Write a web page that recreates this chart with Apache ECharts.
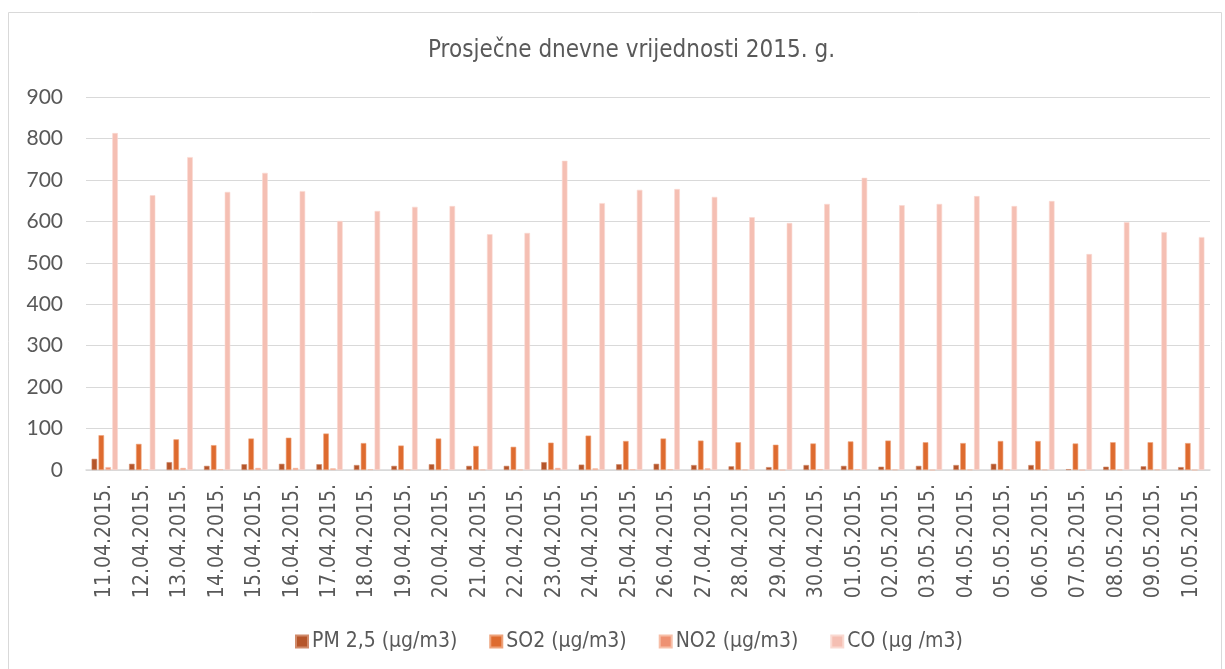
<!DOCTYPE html>
<html>
<head>
<meta charset="utf-8">
<script src="https://cdn.jsdelivr.net/npm/echarts@6/dist/echarts.min.js"></script>
<style>html,body{margin:0;padding:0;background:#fff}#c{width:1225px;height:669px}</style>
</head>
<body>
<div id="c"></div>
<script>
const categories = ['11.04.2015.','12.04.2015.','13.04.2015.','14.04.2015.','15.04.2015.','16.04.2015.','17.04.2015.','18.04.2015.','19.04.2015.','20.04.2015.','21.04.2015.','22.04.2015.','23.04.2015.','24.04.2015.','25.04.2015.','26.04.2015.','27.04.2015.','28.04.2015.','29.04.2015.','30.04.2015.','01.05.2015.','02.05.2015.','03.05.2015.','04.05.2015.','05.05.2015.','06.05.2015.','07.05.2015.','08.05.2015.','09.05.2015.','10.05.2015.'];
const pm25 = [27,15,19,10,14,15,14,12,10,14,10,10,19,13,14,15,12,9,7,12,10,8,10,12,15,12,2,8,9,7];
const so2 = [84,63,74,60,76,78,88,65,59,76,58,56,66,83,70,76,71,67,61,64,69,71,67,65,70,70,64,67,67,65];
const no2 = [7,2,5,2,5,5,4,2,1,2,1,1,5,4,2,2,4,1,0,2,2,1,0,1,1,1,0,1,1,0];
const co = [813,663,755,671,717,673,601,625,635,637,569,572,746,644,676,678,659,610,596,642,705,639,642,661,637,649,521,598,574,562];
const yTicks = {min:0, max:900, interval:100};
const seriesNames = ['PM 2,5 (µg/m3)','SO2 (µg/m3)','NO2 (µg/m3)','CO (µg /m3)'];
const colors = ['#B5552A','#DE6B2F','#EE9172','#F5BFB3'];
const borders = ['#D08A6A','#EEA27A','#F7BFA8','#FAD9D1'];

const cf = '"Liberation Sans Narrow","DejaVu Sans Condensed",Roboto,sans-serif';
const chart = echarts.init(document.getElementById('c'));
const dataSets = [pm25, so2, no2, co];
chart.setOption({
  animation:false,
  color: colors,
  title:{text:'Prosječne dnevne vrijednosti 2015. g.', left:423, top:34,
    textStyle:{fontFamily:cf, fontSize:24, fontWeight:'normal', color:'#595959'}},
  legend:{top:626, left:290, itemWidth:12, itemHeight:12, itemGap:32, icon:'rect',
    textStyle:{fontFamily:cf, fontSize:21, color:'#595959', padding:[0,0,0,-1]},
    data: seriesNames},
  grid:{left:86, right:15, top:97, bottom:199, containLabel:false},
  xAxis:{type:'category', data:categories,
    axisLine:{lineStyle:{color:'#D9D9D9', width:1.5}},
    axisTick:{show:false},
    axisLabel:{rotate:90, interval:0, margin:14, fontFamily:cf, fontSize:21, color:'#595959'}},
  yAxis:{type:'value', min:yTicks.min, max:yTicks.max, interval:yTicks.interval,
    axisLine:{show:false}, axisTick:{show:false},
    splitLine:{lineStyle:{color:'#D9D9D9', width:1}},
    axisLabel:{margin:23, fontFamily:'Lato,"Open Sans",sans-serif', fontSize:21, color:'#595959'}},
  series: seriesNames.map((n,i)=>({
    name:n, type:'bar', data:dataSets[i], barGap:'25%', barCategoryGap:'30%',
    itemStyle:{color:colors[i], borderColor:borders[i], borderWidth:0.6}
  })),
  graphic:[{type:'rect', shape:{x:8.5,y:12.5,width:1213,height:660}, style:{fill:'none', stroke:'#D9D9D9', lineWidth:1}, silent:true}]
});
</script>
</body>
</html>
